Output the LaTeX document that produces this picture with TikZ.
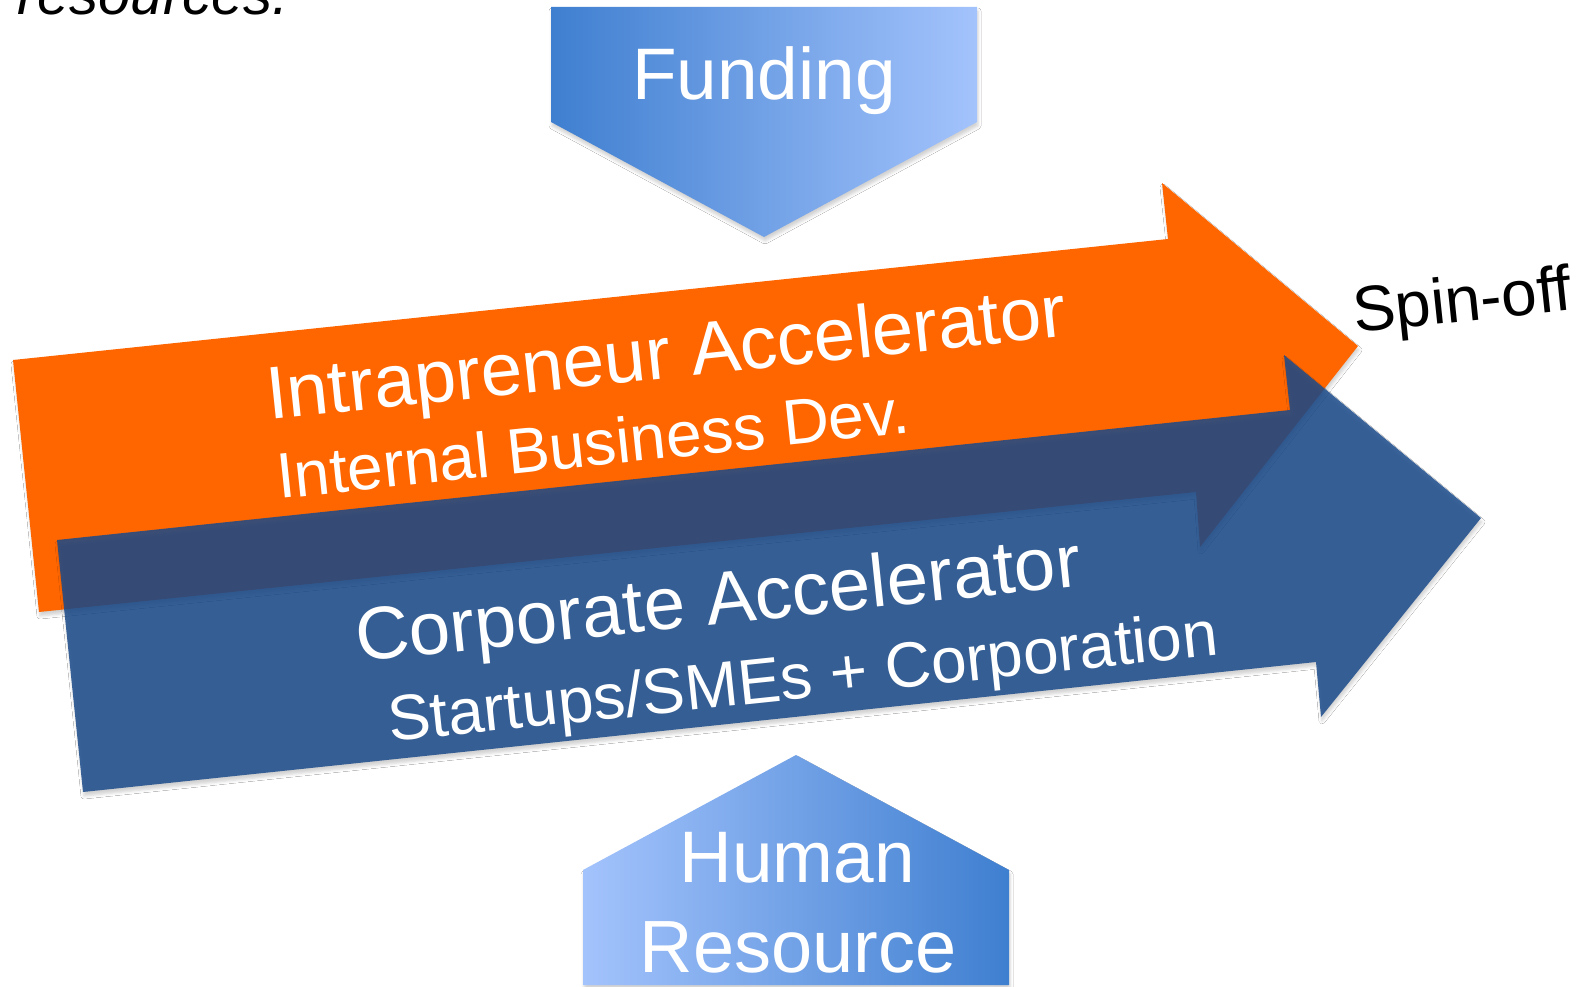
\documentclass[tikz,border=0pt]{standalone}
\usepackage{fontspec}
\setmainfont{Liberation Sans}
\usetikzlibrary{shadows.blur}
\definecolor{orng}{RGB}{255,102,0}
\definecolor{blu}{RGB}{26,74,138}
\definecolor{gdark}{RGB}{63,127,208}
\definecolor{glight}{RGB}{163,195,252}
\begin{document}
\begin{tikzpicture}[x=1pt,y=-1pt,
  shapeshadow/.style={blur shadow={shadow xshift=1pt,shadow yshift=-4pt,shadow blur radius=3pt,shadow opacity=18}},
  lbl/.style={inner sep=0pt, text=white, anchor=base west, rotate=6},
  plain/.style={inner sep=0pt, anchor=base},
]
\fill[white] (0,0) rectangle (1584,987);
\useasboundingbox (0,0) rectangle (1584,987);

% Funding pentagon
\path[shapeshadow, left color=gdark, right color=glight]
  (551,7) -- (977,7) -- (977,122) -- (764,237) -- (551,122) -- cycle;
\node[plain, text=white, font=\fontsize{73}{80}\selectfont] (funding) at (764,100) {Funding};

% Orange arrow
\path[shapeshadow, fill=orng]
  (13,360) -- (1168,239) -- (1162,183) -- (1358,346) -- (1200,547) -- (1196,492) -- (39,612) -- cycle;

% Blue arrow
\path[shapeshadow, fill=blu, fill opacity=0.85]
  (57,540) -- (1290,410) -- (1284,355) -- (1481,518) -- (1321,717) -- (1316,662) -- (83,792) -- cycle;

% Human Resource pentagon
\path[shapeshadow, left color=glight, right color=gdark]
  (796,755) -- (1009,870) -- (1009,985) -- (583,985) -- (583,870) -- cycle;
\node[plain, text=white, font=\fontsize{73}{90}\selectfont] (hr1) at (797,882) {Human};
\node[plain, text=white, font=\fontsize{74}{90}\selectfont] (hr2) at (798,972) {Resource};

% Arrow labels
\node[lbl, font=\fontsize{74.5}{80}\selectfont] (intra) at (269,420) {Intrapreneur Accelerator};
\node[lbl, font=\fontsize{64}{70}\selectfont] (ibd) at (279,499) {Internal Business Dev.};
\node[lbl, font=\fontsize{74.5}{80}\selectfont] (corp) at (358,662) {Corporate Accelerator};
\node[lbl, font=\fontsize{64}{70}\selectfont] (smes) at (390,742) {Startups/SMEs + Corporation};

\node[lbl, text=black, font=\fontsize{64}{70}\selectfont] (spin) at (1355,333) {Spin-off};
\node[inner sep=0pt, anchor=base east, font=\itshape\fontsize{58}{62}\selectfont] (res) at (289,15) {n resources.};
\end{tikzpicture}
\end{document}
